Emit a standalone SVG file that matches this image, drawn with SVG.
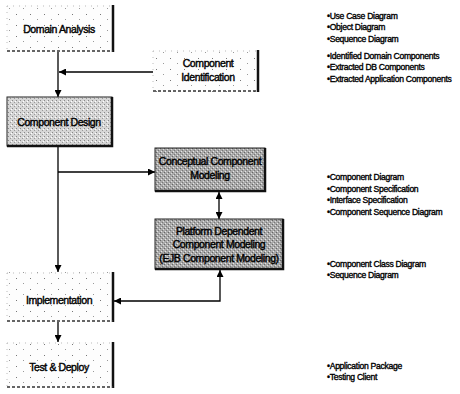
<svg xmlns="http://www.w3.org/2000/svg" width="460" height="394" viewBox="0 0 460 394">
<style>
.lbl{font-family:"Liberation Sans",Arial,sans-serif;font-size:10.5px;fill:#000;text-anchor:middle;stroke:#000;stroke-width:0.4;letter-spacing:-0.4px}
.note{font-family:"Liberation Sans",Arial,sans-serif;font-size:8.6px;fill:#000;stroke:#000;stroke-width:0.35;letter-spacing:-0.3px}
.edge{fill:none;stroke:#000;stroke-width:1.3}
.light{fill:url(#pLight)}
.mid{fill:url(#pMid)}
.dark{fill:url(#pDark)}
.shadow{fill:none;stroke:#111;stroke-width:2.5}
.dashb{fill:none;stroke:#333;stroke-width:1.4;stroke-dasharray:3 2}
.faint{fill:none;stroke:#aaa;stroke-width:0.8;stroke-dasharray:1 5}
</style>
<defs>
<pattern id="pLight" width="14" height="11" patternUnits="userSpaceOnUse">
<rect width="14" height="11" fill="#fdfdfd"/>
<rect x="2" y="3" width="1" height="1" fill="#777"/>
<rect x="9" y="8" width="1" height="1" fill="#999"/>
</pattern>
<pattern id="pMid" width="4" height="4" patternUnits="userSpaceOnUse">
<rect width="4" height="4" fill="#d6d6d6"/>
<rect x="0" y="0" width="1" height="1" fill="#888"/>
<rect x="2" y="2" width="1" height="1" fill="#999"/>
<rect x="3" y="1" width="1" height="1" fill="#fff"/>
</pattern>
<pattern id="pDark" width="4" height="4" patternUnits="userSpaceOnUse">
<rect width="4" height="4" fill="#a9a9a9"/>
<rect x="0" y="0" width="1" height="1" fill="#666"/>
<rect x="2" y="2" width="1" height="1" fill="#777"/>
<rect x="1" y="3" width="1" height="1" fill="#e6e6e6"/>
<rect x="3" y="1" width="1" height="1" fill="#ddd"/>
</pattern>
<marker id="ah" viewBox="0 0 10 10" refX="10" refY="5" markerWidth="7" markerHeight="7" markerUnits="userSpaceOnUse" orient="auto-start-reverse">
<path d="M0,0 L10,5 L0,10 z" fill="#000"/>
</marker>
</defs>
<rect width="460" height="394" fill="#fff"/>

<g id="connectors">
<line class="edge" x1="58" y1="52" x2="58" y2="97" marker-end="url(#ah)"/>
<line class="edge" x1="153" y1="72" x2="59" y2="72" marker-end="url(#ah)"/>
<line class="edge" x1="58" y1="146" x2="58" y2="272" marker-end="url(#ah)"/>
<line class="edge" x1="58" y1="172" x2="155" y2="172" marker-end="url(#ah)"/>
<line class="edge" x1="219" y1="192" x2="219" y2="219" marker-start="url(#ah)" marker-end="url(#ah)"/>
<polyline class="edge" points="220,270 220,301 114,301" marker-start="url(#ah)" marker-end="url(#ah)"/>
<line class="edge" x1="58" y1="322" x2="58" y2="342" marker-end="url(#ah)"/>
</g>

<g id="domain-analysis">
<rect class="light" x="7" y="5" width="106" height="47"/>
<path class="faint" d="M7,6 H112 M7,6 V51"/>
<line class="shadow" x1="113" y1="5" x2="113" y2="52"/>
<line class="dashb" x1="7" y1="51" x2="113" y2="51"/>
<text class="lbl" x="59" y="33">Domain Analysis</text>
</g>

<g id="component-identification">
<rect class="light" x="153" y="50" width="105" height="42"/>
<path class="faint" d="M153,51 H257 M153,51 V91"/>
<line class="shadow" x1="258" y1="50" x2="258" y2="92"/>
<line class="dashb" x1="153" y1="91" x2="258" y2="91"/>
<text class="lbl" x="208" y="67">Component</text>
<text class="lbl" x="208" y="81">Identification</text>
</g>

<g id="component-design">
<rect class="mid" x="7" y="97" width="105" height="49" stroke="#222" stroke-width="1"/>
<path class="shadow" d="M112,97 V146 H7" stroke-width="3"/>
<text class="lbl" x="59" y="126">Component Design</text>
</g>

<g id="conceptual-modeling">
<rect class="dark" x="155" y="148" width="110" height="43" stroke="#222" stroke-width="1"/>
<path class="shadow" d="M265,148 V191 H155" stroke-width="3"/>
<text class="lbl" x="210" y="165">Conceptual Component</text>
<text class="lbl" x="210" y="179">Modeling</text>
</g>

<g id="platform-modeling">
<rect class="dark" x="155" y="219" width="128" height="50" stroke="#222" stroke-width="1"/>
<path class="shadow" d="M283,219 V269 H155" stroke-width="3"/>
<text class="lbl" x="219" y="235">Platform Dependent</text>
<text class="lbl" x="219" y="248">Component Modeling</text>
<text class="lbl" x="219" y="262">(EJB Component Modeling)</text>
</g>

<g id="implementation">
<rect class="light" x="7" y="272" width="106" height="50"/>
<path class="faint" d="M7,273 H112 M7,273 V321"/>
<line class="shadow" x1="113" y1="272" x2="113" y2="322"/>
<line class="dashb" x1="7" y1="321" x2="113" y2="321"/>
<text class="lbl" x="59" y="304">Implementation</text>
</g>

<g id="test-deploy">
<rect class="light" x="7" y="342" width="106" height="46"/>
<path class="faint" d="M7,343 H112 M7,343 V387"/>
<line class="shadow" x1="113" y1="342" x2="113" y2="388"/>
<line class="dashb" x1="7" y1="387" x2="113" y2="387"/>
<text class="lbl" x="59" y="371">Test &amp; Deploy</text>
</g>

<g id="notes">
<text class="note" x="327" y="19">•Use Case Diagram</text>
<text class="note" x="327" y="30">•Object Diagram</text>
<text class="note" x="327" y="42">•Sequence Diagram</text>
<text class="note" x="327" y="59">•Identified Domain Components</text>
<text class="note" x="327" y="70">•Extracted DB Components</text>
<text class="note" x="327" y="82">•Extracted Application Components</text>
<text class="note" x="327" y="180">•Component Diagram</text>
<text class="note" x="327" y="192">•Component Specification</text>
<text class="note" x="327" y="203">•Interface Specification</text>
<text class="note" x="327" y="215">•Component Sequence Diagram</text>
<text class="note" x="327" y="267">•Component Class Diagram</text>
<text class="note" x="327" y="278">•Sequence Diagram</text>
<text class="note" x="327" y="369">•Application Package</text>
<text class="note" x="327" y="380">•Testing Client</text>
</g>
</svg>
